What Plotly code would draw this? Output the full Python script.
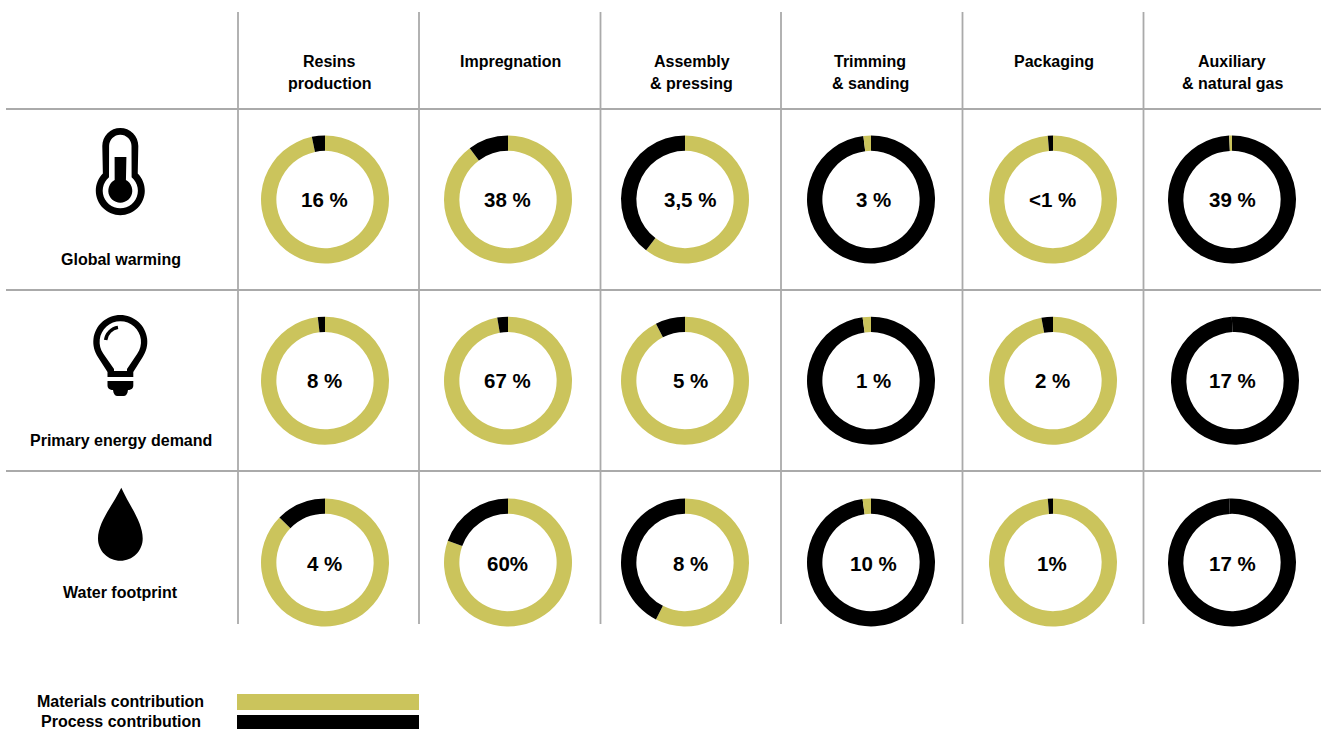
import math
import plotly.graph_objects as go

# Life-cycle stages (columns) and impact categories (rows)
stages = [["Resins", "production"], ["Impregnation"], ["Assembly", "& pressing"],
          ["Trimming", "& sanding"], ["Packaging"], ["Auxiliary", "& natural gas"]]
impacts = ["Global warming", "Primary energy demand", "Water footprint"]

# Share of each stage in the impact category, as printed in the ring
stage_share_labels = [
    ["16 %", "38 %", "3,5 %", "3 %", "<1 %", "39 %"],
    ["8 %", "67 %", "5 %", "1 %", "2 %", "17 %"],
    ["4 %", "60%", "8 %", "10 %", "1%", "17 %"],
]

# Materials part of each ring, in percent; the process part is the remainder
materials_share = [
    [96.7, 89.8, 60.4, 1.9, 98.7, 0.7],
    [98.2, 97.3, 92.5, 2.1, 97.1, 0.8],
    [87.4, 80.5, 57.5, 2.1, 98.7, 0.7],
]
# Slivers that were printed in the process colour
dark_slivers = {(1, 5), (2, 5)}

legend_labels = ["Materials contribution", "Process contribution"]

W, H = 1321, 729
GOLD, BLACK, RULE = "#CBC45C", "#000000", "#AAAAAA"
FONT = "Liberation Sans"
RADIUS = 64
HOLE = 0.76
RING_X = [[325, 508, 685, 871, 1053, 1232],
          [325, 508, 685, 871, 1053, 1235],
          [325, 508, 685, 871, 1053, 1232]]
RING_Y = [199.5, 380.7, 562.5]
SHARE_X = [324.2, 507.2, 690, 873, 1052, 1232.8]
SHARE_Y = [199, 380, 563]
HEADER_X = [329.5, 510.5, 691.5, 870, 1053.5, 1232]


def arc(cx, cy, r, a0, a1, start=False):
    """Bezier segments of a circular arc; angles in degrees, y pointing down."""
    n = max(1, math.ceil(abs(a1 - a0) / 45))
    step = math.radians(a1 - a0) / n
    k = 4 / 3 * math.tan(step / 4)
    a = math.radians(a0)
    out = f"M {cx + r * math.cos(a):.2f} {cy + r * math.sin(a):.2f} " if start else \
        f"L {cx + r * math.cos(a):.2f} {cy + r * math.sin(a):.2f} "
    for _ in range(n):
        b = a + step
        out += (f"C {cx + r * (math.cos(a) - k * math.sin(a)):.2f} {cy + r * (math.sin(a) + k * math.cos(a)):.2f} "
                f"{cx + r * (math.cos(b) + k * math.sin(b)):.2f} {cy + r * (math.sin(b) - k * math.cos(b)):.2f} "
                f"{cx + r * math.cos(b):.2f} {cy + r * math.sin(b):.2f} ")
        a = b
    return out


fig = go.Figure()

# Invisible trace that gives the figure a pixel-scaled coordinate frame
fig.add_trace(go.Scatter(x=[0], y=[0], mode="markers", marker=dict(opacity=0),
                         showlegend=False, hoverinfo="skip"))

# One ring per table cell, largest part clockwise from twelve o'clock
for r, row in enumerate(materials_share):
    for c, m in enumerate(row):
        p = 100 - m
        material_colour = BLACK if (r, c) in dark_slivers else GOLD
        if m >= p:
            values, colours = [m, p], [material_colour, BLACK]
            labels = legend_labels
        else:
            values, colours = [p, m], [BLACK, material_colour]
            labels = legend_labels[::-1]
        cx, cy = RING_X[r][c], RING_Y[r]
        fig.add_trace(go.Pie(
            values=values, labels=labels, sort=False, direction="clockwise", rotation=0,
            hole=HOLE, textinfo="none", hoverinfo="skip", showlegend=False,
            marker=dict(colors=colours, line=dict(width=0)),
            domain=dict(x=[(cx - RADIUS) / W, (cx + RADIUS) / W],
                        y=[1 - (cy + RADIUS) / H, 1 - (cy - RADIUS) / H]),
        ))

shapes = []


def rule(x0, y0, x1, y1):
    shapes.append(dict(type="line", xref="x", yref="y", x0=x0, y0=y0, x1=x1, y1=y1,
                       line=dict(color=RULE, width=1.8)))


def solid(path, colour=BLACK):
    shapes.append(dict(type="path", xref="x", yref="y", path=path, fillcolor=colour,
                       line=dict(width=0), layer="above"))


def rect(x0, y0, x1, y1, colour):
    shapes.append(dict(type="rect", xref="x", yref="y", x0=x0, y0=y0, x1=x1, y1=y1,
                       fillcolor=colour, line=dict(width=0)))


# Table rules
for x in [238, 419, 600.5, 781, 962.5, 1143.5]:
    rule(x, 12, x, 624)
for y in [109, 290, 471]:
    rule(6, y, 1321, y)

# Thermometer icon
solid(arc(120.3, 146, 18, 180, 360, True) + arc(120.3, 190.7, 24.5, -44.6, 224.6) + "Z")
solid(arc(120.3, 146, 11.2, 180, 360, True) + arc(120.3, 190.7, 17.6, -50, 230) + "Z", "#FFFFFF")
solid(arc(120.3, 190.7, 12, -62, 242, True) + "L 114.6 157 L 126.4 157 Z")

# Light bulb icon
solid(arc(120.3, 342, 27, 145, 395, True) +
      "L 133.3 372 L 133.3 377 L 107.5 377 L 107.5 372 Z")
solid(arc(120.3, 342, 20.7, 145, 395, True) +
      "L 127 369 L 127 371 L 114 371 L 114 369 Z", "#FFFFFF")
shapes.append(dict(type="path", xref="x", yref="y", path=arc(120.3, 342, 14.8, 188, 261, True),
                   line=dict(color=BLACK, width=3.5), layer="above"))
solid("M 107.5 381 L 133.3 381 L 133.3 385.5 C 133.3 388.5 131 390 128 390 "
      "C 127.5 394 126 396 123.5 396 L 117.5 396 C 115 396 113.5 394 113 390 "
      "C 110 390 107.5 388.5 107.5 385.5 Z")

# Water drop icon
solid("M 121.3 487.7 C 113 505 98 522 98 538.4 " +
      arc(120.35, 538.4, 22.35, 180, 0).replace("L 98.00 538.40 ", "", 1) +
      "C 142.7 522 129 505 121.3 487.7 Z")

# Legend swatches
rect(237, 694, 419, 710, GOLD)
rect(237, 715, 419, 729, BLACK)

annotations = []


def text(x, y, s, size):
    annotations.append(dict(xref="x", yref="y", x=x, y=y, text=s, showarrow=False,
                            xanchor="center", yanchor="middle",
                            font=dict(family=FONT, size=size, color=BLACK, weight="bold")))


for x, lines in zip(HEADER_X, stages):
    for i, line in enumerate(lines):
        text(x, 61.5 + 22 * i, line, 16)
for y, name in zip([259.5, 440.5, 592.5], impacts):
    text(120.5, y, name, 16)
for r, row in enumerate(stage_share_labels):
    for c, s in enumerate(row):
        text(SHARE_X[c], SHARE_Y[r], s, 20.5)
for y, name in zip([701.5, 721.5], legend_labels):
    text(120.8, y, name, 16)

fig.update_layout(
    width=W, height=H, margin=dict(l=0, r=0, t=0, b=0),
    paper_bgcolor="#FFFFFF", plot_bgcolor="#FFFFFF", showlegend=False,
    shapes=shapes, annotations=annotations,
    xaxis=dict(range=[0, W], visible=False, fixedrange=True),
    yaxis=dict(range=[H, 0], visible=False, fixedrange=True),
)

fig.write_html("out.html", config=dict(displayModeBar=False))
